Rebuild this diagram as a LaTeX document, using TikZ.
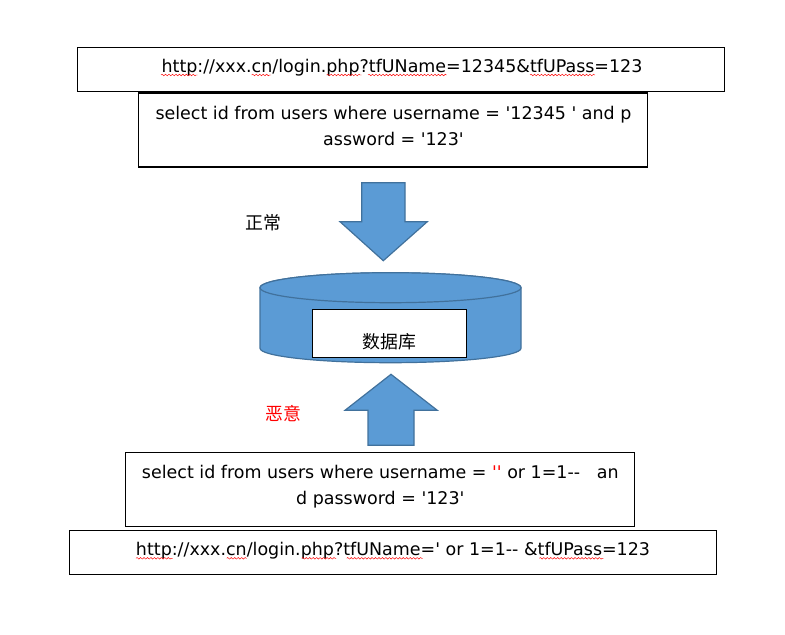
\documentclass[tikz,border=0pt]{standalone}
\usepackage{fontspec}
\usepackage{tikz}
\usetikzlibrary{decorations.pathmorphing}
\newfontfamily\dejavu{DejaVu Sans}
\newfontfamily\cjk{Noto Sans CJK SC}
\definecolor{dbblue}{HTML}{5B9BD5}
\definecolor{dbline}{HTML}{41719C}
\tikzset{
  sqlbox/.style={draw=black,line width=0.9pt,fill=white},
  sqltext/.style={font=\dejavu\fontsize{13.1}{19.5}\selectfont,align=center,inner sep=0pt},
  cntext/.style={font=\cjk\fontsize{13.4}{15}\selectfont,inner sep=0pt},
  dbshape/.style={draw=dbline,line width=0.9pt,fill=dbblue},
  squiggle/.style={draw=red,line width=0.35pt,decorate,decoration={snake,amplitude=0.6pt,segment length=2.6pt}}
}
\begin{document}
\begin{tikzpicture}[x=0.75pt,y=-0.75pt]
\useasboundingbox (0,0) rectangle (785,635);
\draw[sqlbox] (77.3,47.3) rectangle (724.5,91.3);
\draw[sqlbox] (138.7,93) rectangle (647.7,167);
\draw[sqlbox] (125.3,452.3) rectangle (634.3,526.3);
\draw[sqlbox] (69.3,530.3) rectangle (716.3,574.3);
\node[sqltext] (urlgood) at (402,67.5) {http://xxx.cn/login.php?tfUName=12345\&tfUPass=123};
\node[sqltext] (sqlgood) at (393.5,126) {select id from users where username = '12345 ' and p\\assword = '123'};
\node[sqltext] (sqlbad) at (380.3,487) {select id from users where username = \textcolor{red}{''} or 1=1--\ \ \ an\\d password = '123'};
\node[sqltext] (urlbad) at (393,550.5) {http://xxx.cn/login.php?tfUName=' or 1=1-- \&tfUPass=123};
% squiggles under the words
\foreach \from/\to in {161/197.7,251.7/271,326.7/361.7,368/446.7,530/595}
\draw[squiggle] (\from,75) -- (\to,75);
\foreach \from/\to in {136/172.7,226.7/246.7,301.7/336,346.7/422.7,539.3/603.3}
\draw[squiggle] (\from,558.3) -- (\to,558.3);
% arrows
\draw[dbshape] (361.7,182.7) -- (405,182.7) -- (405,221.7) -- (427.3,221.7) -- (383.3,260.7) -- (340,221.7) -- (361.7,221.7) -- cycle;
\draw[dbshape] (391,374.3) -- (437.3,410.3) -- (414,410.3) -- (414,445.3) -- (368,445.3) -- (368,410.3) -- (345,410.3) -- cycle;
% database
\draw[dbshape] (260,287.7) -- (260,348.3) arc[start angle=180,end angle=0,x radius=130.5,y radius=14.4] -- (521,287.7) arc[start angle=0,end angle=-180,x radius=130.5,y radius=15] -- cycle;
\draw[dbshape] (390.5,287.7) ellipse[x radius=130.5,y radius=15];
\draw[sqlbox] (312.3,309.3) rectangle (466.7,357.3);
\node[cntext] (dbname) at (389.5,341.5) {数据库};
\node[cntext] (normal) at (263.5,222.5) {正常};
\node[cntext,text=red] (evil) at (283,414) {恶意};
\end{tikzpicture}
\end{document}
